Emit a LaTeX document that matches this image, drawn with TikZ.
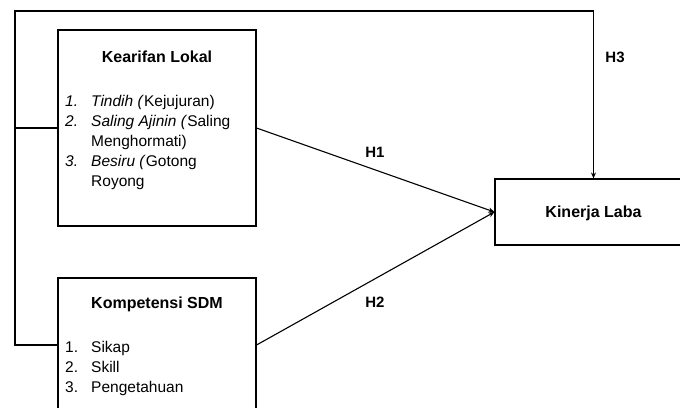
\documentclass[tikz,border=0pt]{standalone}
\usepackage{fontspec}
\setmainfont{Liberation Sans}
\usetikzlibrary{arrows.meta}

\begin{document}
\begin{tikzpicture}[
x=1pt, y=-1pt,
>={Stealth[length=6pt,width=5pt]},
kotak/.style={draw, line width=1.1pt, minimum width=198pt, inner sep=0pt},
judul/.style={font=\fontsize{16}{18}\selectfont\bfseries, inner sep=0pt},
daftar/.style={font=\fontsize{15.5}{20}\selectfont, inner sep=0pt, anchor=north west},
label/.style={font=\fontsize{15}{17}\selectfont\bfseries, inner sep=0pt},
garis/.style={line width=1.1pt},
]
\useasboundingbox (0,0) rectangle (680,407);

\node[kotak, minimum height=196pt] (kearifan) at (157,128) {};
\node[kotak, minimum height=134pt] (sdm) at (157,345) {};
\node[kotak, minimum width=197pt, minimum height=66pt] (kinerja) at (593.5,212) {};

\node[judul] (tkearifan) at (157,57) {Kearifan Lokal};
\node[daftar] (dkearifan) at (65,92) {%
\begin{tabular}{@{}p{26pt}@{}l@{}}
\textit{1.} & \textit{Tindih (}Kejujuran)\\
\textit{2.} & \textit{Saling Ajinin (}Saling\\
 & Menghormati)\\
\textit{3.} & \textit{Besiru (}Gotong\\
 & Royong
\end{tabular}};

\node[judul] (tsdm) at (157,304) {Kompetensi SDM};
\node[daftar] (dsdm) at (65,338) {%
\begin{tabular}{@{}p{26pt}@{}l@{}}
1. & Sikap\\
2. & Skill\\
3. & Pengetahuan
\end{tabular}};

\node[judul] (tkinerja) at (593.5,213) {Kinerja Laba};

\coordinate (sudut) at (15,11);

% hubungan
\draw[garis,->] (kearifan.east) -- (kinerja.west);
\draw[garis,->] (sdm.east) -- (kinerja.west);
\draw[garis] (kearifan.west) -- (kearifan.west -| sudut);
\draw[garis,->] (sdm.west) -| (sudut) -| (kinerja.north);

\node[label] (h1) at (375,152) {H1};
\node[label] (h2) at (375,302) {H2};
\node[label] (h3) at (615,57) {H3};

\end{tikzpicture}
\end{document}
